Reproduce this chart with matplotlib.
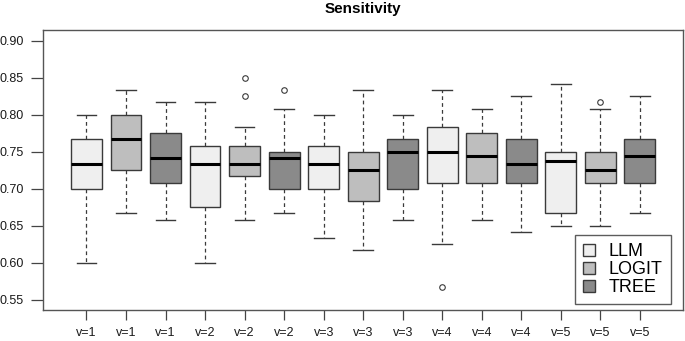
import matplotlib
matplotlib.use("Agg")
import matplotlib.pyplot as plt
from matplotlib.patches import Patch

plt.rcParams['font.family'] = ['Liberation Sans', 'DejaVu Sans']

labels = ["v=1", "v=1", "v=1", "v=2", "v=2", "v=2", "v=3", "v=3", "v=3",
          "v=4", "v=4", "v=4", "v=5", "v=5", "v=5"]
methods = ["LLM", "LOGIT", "TREE"] * 5
whislo = [0.600, 0.667, 0.658, 0.600, 0.658, 0.667, 0.633, 0.617, 0.658,
          0.625, 0.658, 0.642, 0.650, 0.650, 0.667]
q1 = [0.700, 0.725, 0.708, 0.675, 0.717, 0.700, 0.700, 0.683, 0.700,
      0.708, 0.708, 0.708, 0.667, 0.708, 0.708]
med = [0.733, 0.767, 0.742, 0.733, 0.733, 0.742, 0.733, 0.725, 0.750,
       0.750, 0.745, 0.733, 0.738, 0.725, 0.745]
q3 = [0.767, 0.800, 0.775, 0.758, 0.758, 0.750, 0.758, 0.750, 0.767,
      0.783, 0.775, 0.767, 0.750, 0.750, 0.767]
whishi = [0.800, 0.833, 0.817, 0.817, 0.783, 0.808, 0.800, 0.833, 0.800,
          0.833, 0.808, 0.825, 0.842, 0.808, 0.825]
fliers = [[], [], [], [], [0.825, 0.850], [0.833], [], [], [],
          [0.567], [], [], [], [0.817], []]
colors = {"LLM": "#efefef", "LOGIT": "#bebebe", "TREE": "#8a8a8a"}
yticks = [0.55, 0.60, 0.65, 0.70, 0.75, 0.80, 0.85, 0.90]

fig = plt.figure(figsize=(6.85, 3.41), dpi=100)
ax = fig.add_axes([43/685, 1-310/341, 640/685, 280/341])

stats = []
for i in range(len(labels)):
    stats.append(dict(whislo=whislo[i], q1=q1[i], med=med[i], q3=q3[i],
                      whishi=whishi[i], fliers=fliers[i], label=labels[i]))
positions = list(range(1, len(labels) + 1))
edge = "#3a3a3a"
bp = ax.bxp(stats, positions=positions, widths=0.78, patch_artist=True,
            showfliers=True,
            boxprops=dict(edgecolor=edge, linewidth=1.0),
            medianprops=dict(color="black", linewidth=2.2),
            whiskerprops=dict(color=edge, linewidth=0.9, linestyle=(0, (3, 2.5))),
            capprops=dict(color=edge, linewidth=1.0),
            flierprops=dict(marker="o", markersize=4, markerfacecolor="none",
                            markeredgecolor=edge, markeredgewidth=0.8))
for patch, m in zip(bp["boxes"], methods):
    patch.set_facecolor(colors[m])
for cap in bp["caps"]:
    x = cap.get_xdata()
    c = (x[0] + x[1]) / 2
    cap.set_xdata([c - 0.25, c + 0.25])

ax.set_xlim(-0.1, 16.09)
ax.set_ylim(0.5365, 0.9144)
ax.set_yticks(yticks)
ax.set_yticklabels([f"{v:.2f}" for v in yticks])
ax.set_xticks(positions)
ax.set_xticklabels(labels)
for s in ax.spines.values():
    s.set_color("#555555")
    s.set_linewidth(1.0)
ax.tick_params(axis="both", width=0.9, color="#444444",
               labelsize=9, labelcolor="#1a1a1a")
ax.tick_params(axis="x", length=7, pad=5)
ax.tick_params(axis="y", length=9, pad=5)
ax.set_title("Sensitivity", fontsize=11, fontweight="bold", pad=12)

handles = [Patch(facecolor=colors[m], edgecolor=edge, label=m) for m in ["LLM", "LOGIT", "TREE"]]
leg = ax.legend(handles=handles, loc="lower right", fontsize=13, frameon=True,
                fancybox=False, edgecolor="#333333", handlelength=0.65,
                handleheight=0.65, handletextpad=0.8, labelspacing=0.05,
                borderpad=0.45, borderaxespad=0,
                bbox_to_anchor=(671/640 - 43/640, (310-304)/280))
leg.get_frame().set_linewidth(1.0)

fig.savefig("out.png", dpi=100)
